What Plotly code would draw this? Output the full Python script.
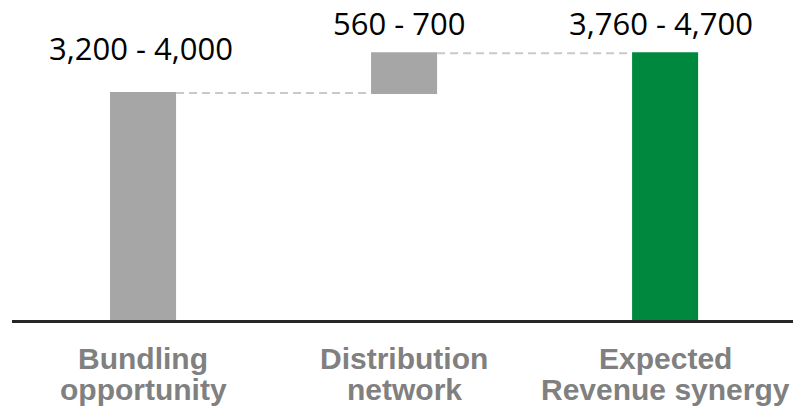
import plotly.graph_objects as go

categories = ["Bundling opportunity", "Distribution network", "Expected Revenue synergy"]
category_lines = [["Bundling", "opportunity"], ["Distribution", "network"], ["Expected", "Revenue synergy"]]
measures = ["relative", "relative", "total"]
low_values = [3200, 560, 3760]
high_values = [4000, 700, 4700]
range_labels = [f"{lo:,} - {hi:,}" for lo, hi in zip(low_values, high_values)]

GRAY = "#a6a6a6"
GREEN = "#00893e"

fig = go.Figure()
fig.add_trace(go.Waterfall(
    x=categories,
    y=[low_values[0], low_values[1], 0],
    measure=measures,
    width=0.253,
    increasing=dict(marker=dict(color=GRAY)),
    decreasing=dict(marker=dict(color=GRAY)),
    totals=dict(marker=dict(color=GREEN)),
    connector=dict(mode="between", line=dict(color="#c9c9c9", width=2, dash="8px,5px")),
    textinfo="none",
    hoverinfo="skip",
))

# tops of each bar for label placement
tops = [low_values[0], low_values[0] + low_values[1], low_values[2]]
shifts = [22, 7, 7]
xshifts = [-2.5, -5, -4.5]
annotations = []
for cat, top, lab, ys, xs in zip(categories, tops, range_labels, shifts, xshifts):
    annotations.append(dict(
        x=cat, y=top, xref="x", yref="y", text=lab, showarrow=False,
        yanchor="bottom", xanchor="center", yshift=ys, xshift=xs,
        font=dict(family="Open Sans", size=31, color="#000000"),
    ))
for cat, lines in zip(categories, category_lines):
    for i, line in enumerate(lines):
        annotations.append(dict(
            x=cat, y=0, xref="x", yref="paper", text=f"<b>{line}</b>", showarrow=False,
            yanchor="middle", xanchor="center", yshift=-38 - 31 * i,
            font=dict(family="Liberation Sans", size=30, color="#808080"),
        ))

fig.update_layout(
    width=793, height=410,
    margin=dict(l=12, r=0, t=0, b=90),
    paper_bgcolor="white", plot_bgcolor="white",
    showlegend=False,
    annotations=annotations,
    xaxis=dict(type="category", range=[-0.502, 2.49], showticklabels=False,
               showline=True, linecolor="#262626", linewidth=3, ticks="",
               showgrid=False, zeroline=False, fixedrange=True),
    yaxis=dict(range=[0, 4510], visible=False, showgrid=False, zeroline=False),
)

fig.write_html("out.html")
